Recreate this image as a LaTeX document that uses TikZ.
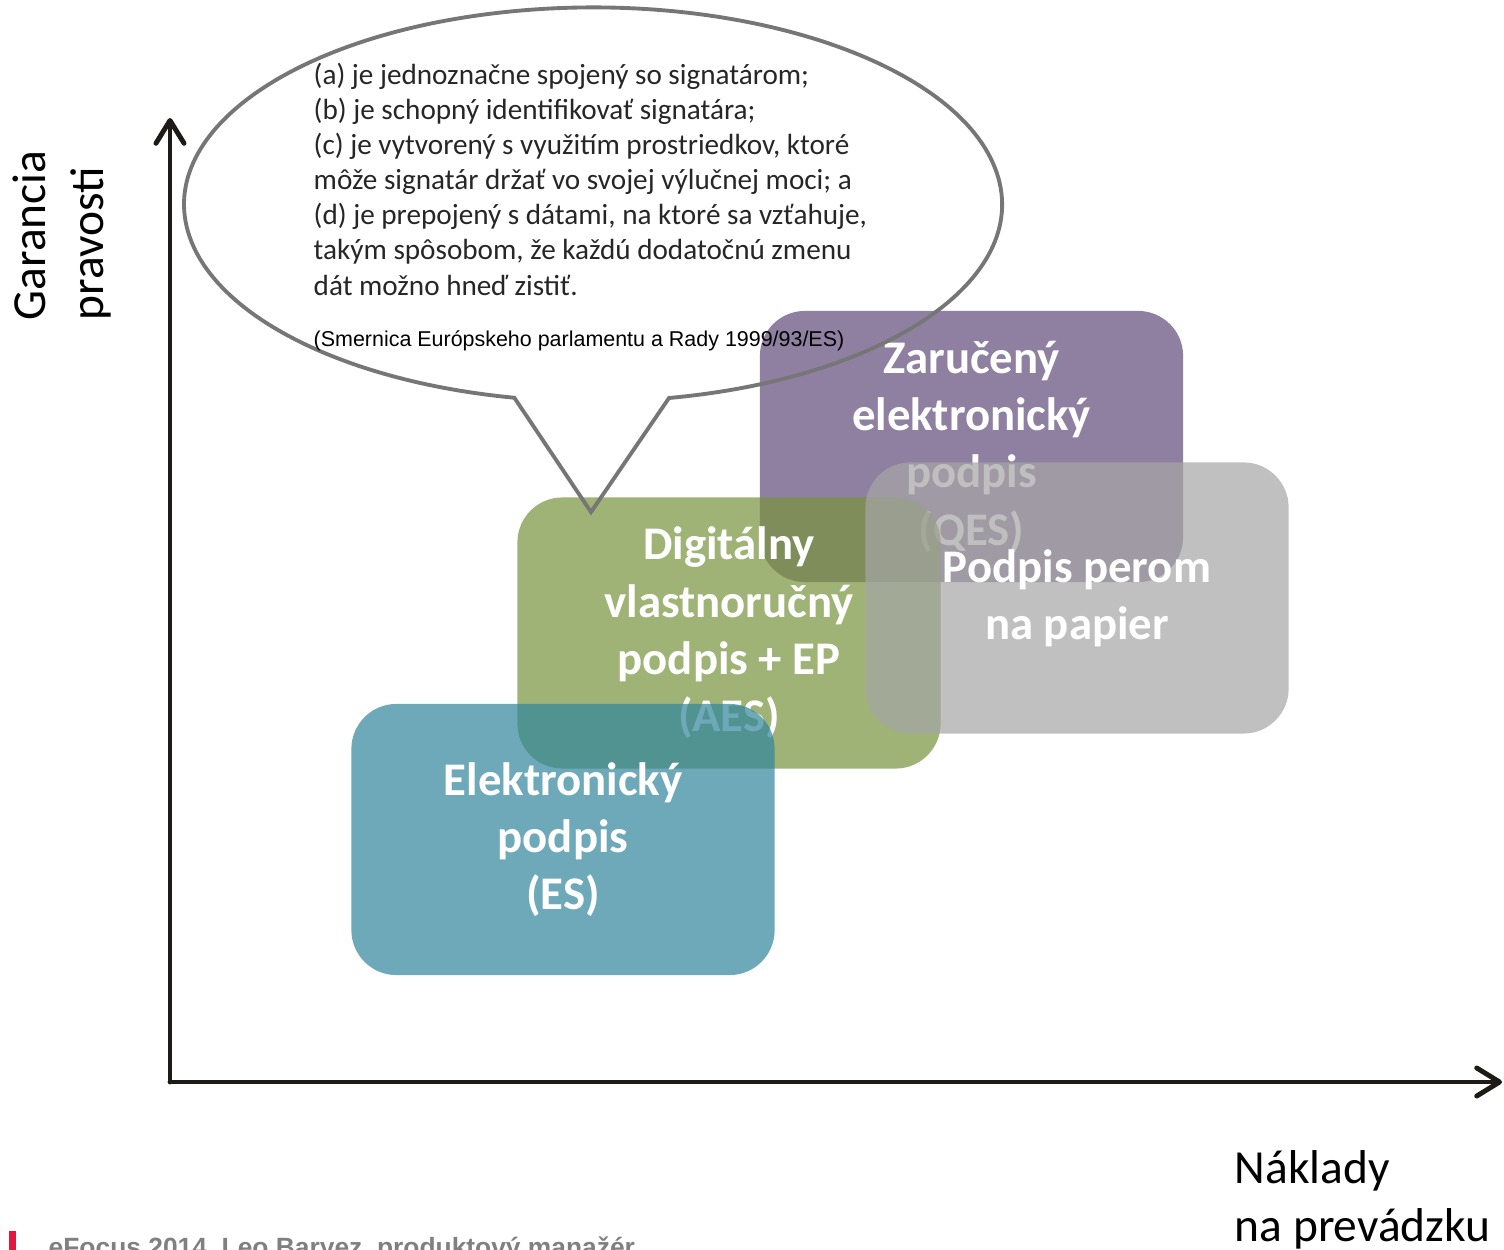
\documentclass[tikz,border=0pt]{standalone}
\usepackage{fontspec}
\setmainfont{Carlito}
\newfontfamily\arialfont{Liberation Sans}
\usetikzlibrary{arrows.meta,positioning}

\definecolor{qespurple}{HTML}{604A7B}
\definecolor{aesgreen}{HTML}{77933C}
\definecolor{esblue}{HTML}{31859C}
\definecolor{papergray}{HTML}{A5A5A5}
\definecolor{axisdark}{HTML}{1E1B16}
\definecolor{bubblegray}{HTML}{767676}
\definecolor{footred}{HTML}{E0173F}
\definecolor{footgray}{HTML}{808080}

\tikzset{
  sigbox/.style={rounded corners=12.8pt, fill opacity=0.7, text opacity=1,
    minimum width=4.23cm, minimum height=2.71cm, inner sep=0pt,
    text=white, align=center, font=\fontsize{13.3}{16.3}\selectfont\bfseries},
  axisline/.style={axisdark, line width=1.4pt, line cap=round,
    -{Straight Barb[round,length=6.5pt,width=8pt]}},
  bubble/.style={bubblegray, line width=1.1pt},
  deftext/.style={inner sep=0pt, align=left, text=black!85,
    font=\fontsize{8.3}{10}\selectfont},
  axislabel/.style={inner sep=0pt, align=left, text=black,
    font=\fontsize{13.5}{16.5}\selectfont}
}

\begin{document}
\begin{tikzpicture}[x=0.01cm,y=-0.01cm]
  \useasboundingbox (0,0) rectangle (1504,1249);
  % the four kinds of signature
  \node[sigbox, fill=qespurple] (qes) at (971.5,446.5) {Zaručený\\elektronický\\podpis\\(QES)};
  \node[sigbox, fill=aesgreen] (aes) at (729,633) {Digitálny\\vlastnoručný\\podpis + EP\\(AES)};
  \node[sigbox, fill=papergray] (paper) at (1077,598) {Podpis perom\\na papier};
  \node[sigbox, fill=esblue] (es) at (563,839.5) {Elektronický\\podpis\\(ES)};
  % the callout
  \coordinate (tailR) at (669,398);
  \coordinate (tip) at (591,512);
  \draw[bubble] (tailR) arc[start angle=79.3, end angle=-258.9, x radius=409, y radius=197] -- (tip) -- cycle;
  \node[deftext, anchor=north west] (def) at (313,62)
    {(a) je jednoznačne spojený so signatárom;\\
     (b) je schopný identifikovať signatára;\\
     (c) je vytvorený s využitím prostriedkov, ktoré\\
     môže signatár držať vo svojej výlučnej moci; a\\
     (d) je prepojený s dátami, na ktoré sa vzťahuje,\\
     takým spôsobom, že každú dodatočnú zmenu\\
     dát možno hneď zistiť.};
  \node[inner sep=0pt, anchor=west, font=\arialfont\fontsize{6.1}{8}\selectfont] (cite) at (313,341)
    {(Smernica Európskeho parlamentu a Rady 1999/93/ES)};
  % the axes
  \coordinate (origin) at (170,1082);
  \coordinate (ytop) at (170,118);
  \coordinate (xend) at (1502,1082);
  \draw[axisline] (origin) -- (ytop);
  \draw[axisline] (origin) -- (xend);
  \node[axislabel, rotate=90, anchor=north west] (ylab) at (12,321) {Garancia\\pravosti};
  \node[axislabel, anchor=north west] (xlab) at (1234,1150) {Náklady\\na prevádzku};
  % footer, cut by the page edge
  \fill[footred] (9,1231) rectangle (16,1260);
  \node[inner sep=0pt, anchor=base west, text=footgray, font=\arialfont\bfseries\fontsize{7.5}{9}\selectfont] (foot) at (48,1256)
    {eFocus 2014, Leo Baryez, produktový manažér};
\end{tikzpicture}
\end{document}
